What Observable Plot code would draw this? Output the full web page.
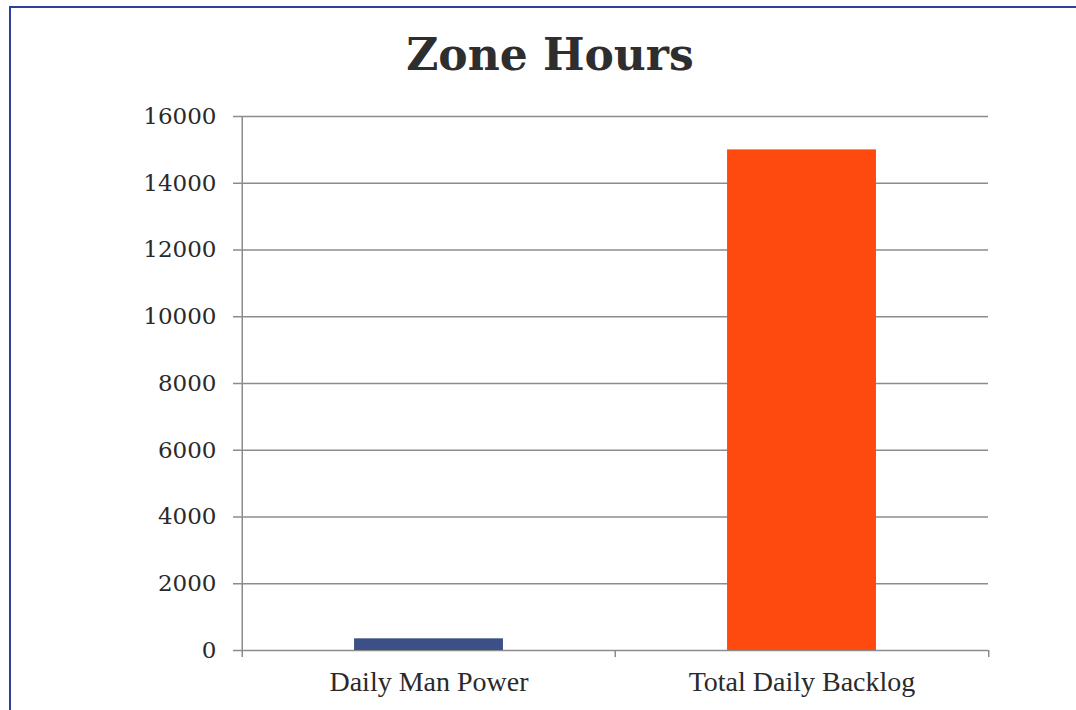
<!DOCTYPE html>
<html>
<head>
<meta charset="utf-8">
<script src="https://cdn.jsdelivr.net/npm/d3@7"></script>
<script src="https://cdn.jsdelivr.net/npm/@observablehq/plot@0.6"></script>
<style>
  html, body { margin: 0; padding: 0; background: #fff; overflow: hidden; }
  #wrap { position: relative; width: 1076px; height: 710px; }
  #frame { position: absolute; left: 9px; top: 6px; width: 2000px; height: 2000px;
           border-top: 2px solid #2d40a0; border-left: 2px solid #2d40a0; box-sizing: border-box; }
  #title { position: absolute; left: 0; top: 33px; width: 1076px; padding-left: 24px; box-sizing: border-box;
           text-align: center; font-family: "DejaVu Serif", serif; font-weight: bold; font-size: 44px;
           line-height: 1; color: #2e2e2e; }
  #chart { position: absolute; left: 0; top: 100px; }
</style>
</head>
<body>
<div id="wrap">
  <div id="frame"></div>
  <div id="title">Zone Hours</div>
  <div id="chart"></div>
</div>
<script>
const categories = ["Daily Man Power", "Total Daily Backlog"];
const values = [350, 15000];
const colors = ["#3d4f87", "#ff4a0f"];
const yTicks = [0, 2000, 4000, 6000, 8000, 10000, 12000, 14000, 16000];

const data = categories.map((c, i) => ({category: c, value: values[i], color: colors[i]}));

const W = 1076, H = 610;
const mL = 241, mR = 88, mT = 16, mB = 60;
const band = (W - mL - mR) / categories.length;
const barW = band * 0.4;
const inset = (band - barW) / 2;

const plot = Plot.plot({
  width: W,
  height: H,
  marginLeft: mL,
  marginRight: mR,
  marginTop: mT,
  marginBottom: mB,
  style: { background: "transparent", color: "#2a2a2a" },
  x: { domain: categories, padding: 0 },
  y: { domain: [0, 16000] },
  marks: [
    Plot.ruleY(yTicks, { stroke: "#8c8c8c", strokeWidth: 1.5, insetLeft: -8 }),
    Plot.barY(data, { x: "category", y: "value", fill: "color", insetLeft: inset, insetRight: inset }),
    Plot.axisY({ ticks: yTicks, tickSize: 0, tickPadding: 25, tickFormat: d => String(d),
                 fontSize: 23, fontFamily: "DejaVu Serif", label: null, stroke: "none" }),
    Plot.axisX({ tickSize: 0, tickPadding: 21, fontSize: 28, fontFamily: "Liberation Serif", label: null }),
    // category separator ticks at band edges
    Plot.ruleX(categories, { x: d => d, dx: -band / 2, insetTop: H - mT - mB, insetBottom: -7,
                             stroke: "#8c8c8c", strokeWidth: 1.5 }),
    Plot.ruleX([categories[categories.length - 1]], { x: d => d, dx: band / 2, insetTop: H - mT - mB, insetBottom: -7,
                             stroke: "#8c8c8c", strokeWidth: 1.5 }),
    // vertical axis line
    Plot.ruleX([categories[0]], { x: d => d, dx: -band / 2, stroke: "#8c8c8c", strokeWidth: 1.5 })
  ]
});
document.getElementById("chart").appendChild(plot);
</script>
</body>
</html>
